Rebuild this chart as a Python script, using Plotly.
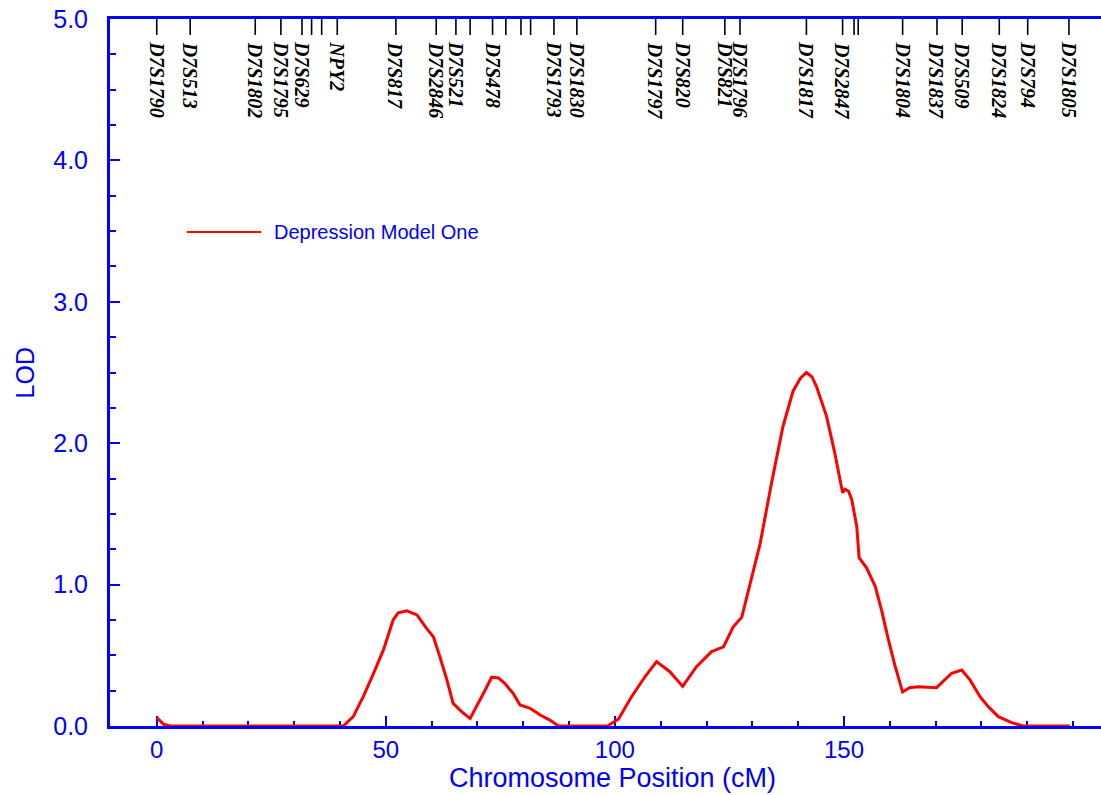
import plotly.graph_objects as go

# ---- data ----
cm = [0, 0.6, 1.5, 3, 40, 40.7, 42.9, 45.1, 47.3, 49.5, 51.6, 52.7, 54.6, 56.8, 58.9, 60.4,
      61.8, 63.3, 64.7, 66.6, 68.4, 70.2, 71.7, 73.1, 74.6, 76.0, 77.8, 79.3, 81.5, 83.7,
      85.8, 87.7, 98.4, 100.8, 103.5, 106.6, 109.1, 112.0, 114.8, 117.8, 121.1, 123.7,
      125.8, 127.7, 129.5, 131.7, 134.2, 136.7, 138.9, 140.5, 141.8, 143.0, 144.0, 146.2,
      148.0, 149.7, 150.2, 151.0, 151.7, 152.8, 153.3, 154.9, 156.8, 158.2, 159.7, 161.1,
      162.8, 164.3, 166.2, 170.2, 173.5, 175.7, 177.5, 179.7, 181.5, 183.7, 186.6, 189.1,
      199.3]
lod = [0.06, 0.04, 0.012, 0.0, 0.0, 0.0, 0.066, 0.21, 0.37, 0.54, 0.75, 0.80, 0.814, 0.786,
       0.69, 0.63, 0.49, 0.33, 0.16, 0.10, 0.054, 0.16, 0.255, 0.345, 0.34, 0.30, 0.23,
       0.149, 0.125, 0.078, 0.042, 0.0, 0.0, 0.05, 0.20, 0.35, 0.455, 0.384, 0.28, 0.42,
       0.526, 0.56, 0.70, 0.77, 1.01, 1.29, 1.72, 2.12, 2.37, 2.46, 2.50, 2.47, 2.40, 2.19,
       1.93, 1.65, 1.675, 1.66, 1.60, 1.41, 1.19, 1.12, 0.99, 0.82, 0.61, 0.43, 0.24, 0.27,
       0.278, 0.271, 0.373, 0.396, 0.326, 0.207, 0.137, 0.066, 0.024, 0.0, 0.0]

marker_names = ["D7S1790", "D7S513", "D7S1802", "D7S1795", "D7S629", "NPY2", "D7S817",
                "D7S2846", "D7S521", "D7S478", "D7S1793", "D7S1830", "D7S1797", "D7S820",
                "D7S821", "D7S1796", "D7S1817", "D7S2847", "D7S1804", "D7S1837", "D7S509",
                "D7S1824", "D7S794", "D7S1805"]
marker_pos = [0.0, 7.3, 21.5, 27.1, 31.7, 39.4, 52.2, 61.0, 65.3, 73.3, 86.7, 91.7,
              108.9, 114.8, 124.0, 127.3, 141.8, 149.7, 162.8, 170.3, 175.8, 183.9,
              190.1, 199.1]
unlabeled_pos = [33.8, 36.0, 68.4, 76.2, 79.5, 81.6, 152.2, 153.1]

x_tickvals = [0, 50, 100, 150]
x_ticktext = ["0", "50", "100", "150"]
x_minor = list(range(0, 201, 10))
y_tickvals = [0, 1, 2, 3, 4, 5]
y_ticktext = ["0.0", "1.0", "2.0", "3.0", "4.0", "5.0"]

series_name = "Depression Model One"
x_title = "Chromosome Position (cM)"
y_title = "LOD"

BLUE = "#0000ff"
RED = "#ff0000"
SANS = "Liberation Sans, Arial, sans-serif"
SERIF = "Liberation Serif, Times New Roman, serif"

fig = go.Figure()

# marker ticks along the top
tx, ty = [], []
for p in marker_pos + unlabeled_pos:
    tx += [p, p, None]
    ty += [5.0, 4.887, None]
fig.add_trace(go.Scatter(x=tx, y=ty, mode="lines", line=dict(color="black", width=1.6),
                         showlegend=False, hoverinfo="skip"))

fig.add_trace(go.Scatter(x=cm, y=lod, mode="lines", name=series_name,
                         line=dict(color=RED, width=3), showlegend=False))

for name, p in zip(marker_names, marker_pos):
    fig.add_annotation(x=p, xref="x", y=0.971, yref="paper", text=f"<b><i>{name}</i></b>",
                       textangle=90, showarrow=False, xanchor="center", yanchor="top",
                       font=dict(family=SERIF, size=20, color="black"))

# legend
fig.add_shape(type="line", xref="paper", yref="paper", x0=0.0777, x1=0.1524,
              y0=0.6987, y1=0.6987, line=dict(color=RED, width=2))
fig.add_annotation(x=0.1635, y=0.6987, xref="paper", yref="paper", text=series_name,
                   showarrow=False, xanchor="left", yanchor="middle",
                   font=dict(family=SANS, size=20, color=BLUE))

# axis titles
fig.add_annotation(x=0.5066, y=-0.0735, xref="paper", yref="paper", text=x_title,
                   showarrow=False, xanchor="center", yanchor="middle",
                   font=dict(family=SANS, size=27, color=BLUE))
fig.add_annotation(x=-0.0858, y=0.5, xref="paper", yref="paper", text=y_title,
                   textangle=-90, showarrow=False, xanchor="center", yanchor="middle",
                   font=dict(family=SANS, size=25, color=BLUE))

fig.update_layout(
    width=1101, height=795,
    margin=dict(l=110, r=0, t=19, b=69),
    paper_bgcolor="white", plot_bgcolor="white",
    showlegend=False,
    xaxis=dict(range=[-10.2, 206.1], showgrid=False, zeroline=False,
               showline=True, linecolor=BLUE, linewidth=3, mirror=True,
               ticks="inside", tickmode="array", tickvals=x_tickvals, ticktext=x_ticktext,
               ticklen=10, tickwidth=2, tickcolor=BLUE, layer="below traces",
               tickfont=dict(family=SANS, size=24, color=BLUE), ticklabelstandoff=0,
               minor=dict(ticks="inside", tickmode="array", tickvals=x_minor,
                          ticklen=5, tickwidth=2, tickcolor=BLUE)),
    yaxis=dict(range=[0, 5], showgrid=False, zeroline=False,
               showline=True, linecolor=BLUE, linewidth=3, mirror=False,
               ticks="inside", tickmode="array", tickvals=y_tickvals, ticktext=y_ticktext,
               ticklen=10, tickwidth=2, tickcolor=BLUE, layer="below traces",
               tickfont=dict(family=SANS, size=25, color=BLUE), ticklabelstandoff=14,
               minor=dict(ticks="inside", dtick=0.25, tick0=0,
                          ticklen=6, tickwidth=2, tickcolor=BLUE)),
)

fig.write_html("out.html")
